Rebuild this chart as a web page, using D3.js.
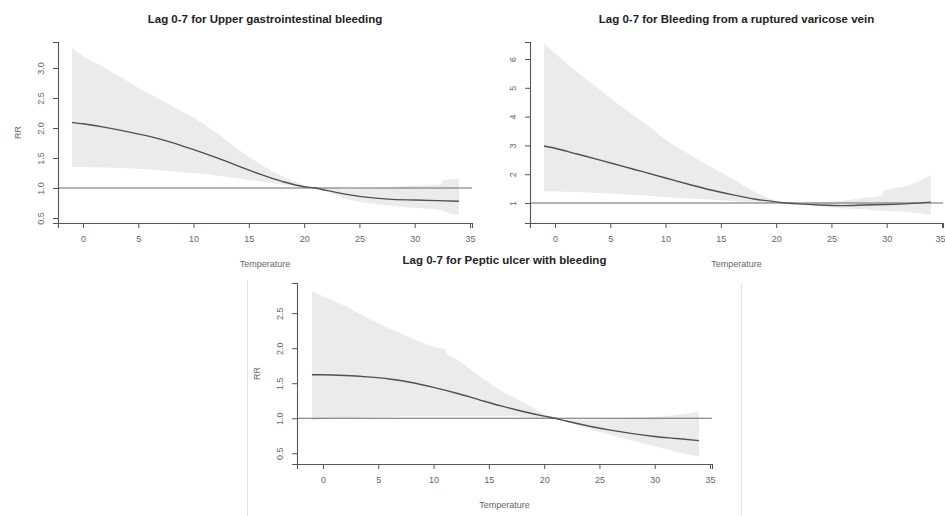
<!DOCTYPE html>
<html>
<head>
<meta charset="utf-8">
<script src="https://cdn.jsdelivr.net/npm/d3@7"></script>
<style>
  body { margin: 0; background: #fff; }
  text { font-family: "Liberation Sans", Arial, sans-serif; }
</style>
</head>
<body>
<div id="chart"></div>
<script>
// Temperature grid for fitted curves
const temps = [-1, 0, 2, 4, 6, 8, 10, 12, 14, 16, 18, 20, 21, 22, 24, 26, 28, 30, 32, 34];

// Upper gastrointestinal bleeding
const rrUpperGI = [2.09, 2.07, 2.01, 1.94, 1.86, 1.76, 1.64, 1.51, 1.37, 1.23, 1.11, 1.02, 1.0, 0.96, 0.89, 0.84, 0.81, 0.80, 0.79, 0.78];
const bandTempsUpperGI = [-1, 0, 2, 4, 6, 8, 10, 12, 14, 16, 18, 20, 21, 22, 24, 26, 28, 30, 32.4, 32.5, 34];
const hiUpperGI = [3.33, 3.2, 3.0, 2.78, 2.57, 2.37, 2.17, 1.93, 1.65, 1.40, 1.2, 1.05, 1.0, 1.0, 0.98, 1.0, 1.02, 1.04, 1.06, 1.12, 1.15];
const loUpperGI = [1.35, 1.35, 1.34, 1.33, 1.31, 1.28, 1.25, 1.21, 1.16, 1.11, 1.06, 1.02, 1.0, 0.94, 0.81, 0.74, 0.70, 0.67, 0.63, 0.62, 0.55];

// Bleeding from a ruptured varicose vein
const rrVaricose = [2.98, 2.90, 2.70, 2.50, 2.29, 2.08, 1.87, 1.66, 1.46, 1.29, 1.14, 1.04, 1.0, 0.97, 0.93, 0.91, 0.93, 0.95, 0.98, 1.03];
const bandTempsVaricose = [-1, 0, 2, 4, 6, 8, 10, 12, 14, 16, 18, 20, 21, 22, 24, 26, 28, 29.6, 29.7, 32, 34];
const hiVaricose = [6.55, 6.2, 5.55, 4.95, 4.35, 3.8, 3.2, 2.72, 2.28, 1.85, 1.4, 1.08, 1.0, 1.0, 1.02, 1.08, 1.18, 1.27, 1.42, 1.62, 1.97];
const loVaricose = [1.40, 1.40, 1.38, 1.35, 1.31, 1.26, 1.21, 1.16, 1.12, 1.07, 1.03, 1.01, 1.0, 0.97, 0.88, 0.82, 0.78, 0.72, 0.72, 0.68, 0.58];

// Peptic ulcer with bleeding
const rrPeptic = [1.62, 1.62, 1.61, 1.59, 1.56, 1.51, 1.44, 1.36, 1.27, 1.18, 1.10, 1.03, 1.0, 0.96, 0.89, 0.83, 0.78, 0.74, 0.71, 0.68];
const bandTempsPeptic = [-1, 0, 2, 4, 6, 8, 10, 11.1, 11.2, 12, 14, 16, 18, 20, 21, 22, 24, 26, 28, 30, 32, 34];
const hiPeptic = [2.82, 2.74, 2.6, 2.43, 2.28, 2.15, 2.02, 1.98, 1.92, 1.85, 1.62, 1.40, 1.24, 1.06, 1.0, 0.98, 0.98, 0.99, 1.0, 1.02, 1.05, 1.1];
const loPeptic = [0.97, 0.99, 1.0, 1.01, 1.02, 1.03, 1.03, 1.03, 1.03, 1.03, 1.03, 1.03, 1.02, 1.0, 0.99, 0.95, 0.85, 0.76, 0.68, 0.60, 0.52, 0.45];

const xTicks = [0, 5, 10, 15, 20, 25, 30, 35];
const yTicksUpperGI = [0.5, 1.0, 1.5, 2.0, 2.5, 3.0];
const yTicksVaricose = [1, 2, 3, 4, 5, 6];
const yTicksPeptic = [0.5, 1.0, 1.5, 2.0, 2.5];

const titles = [
  "Lag 0-7 for Upper gastrointestinal bleeding",
  "Lag 0-7 for Bleeding from a ruptured varicose vein",
  "Lag 0-7 for Peptic ulcer with bleeding"
];

const width = 945;
const height = 516;

const svg = d3.select("#chart")
  .append("svg")
  .attr("width", width)
  .attr("height", height);

// faint frame of the bottom panel
svg.append("line").attr("x1", 247.5).attr("x2", 247.5).attr("y1", 280).attr("y2", height)
  .attr("stroke", "#e4e4e4");
svg.append("line").attr("x1", 741.5).attr("x2", 741.5).attr("y1", 283).attr("y2", height)
  .attr("stroke", "#e4e4e4");

const panels = [
  {
    title: titles[0], rr: rrUpperGI, bandT: bandTempsUpperGI, hi: hiUpperGI, lo: loUpperGI,
    yTicks: yTicksUpperGI, fmt: d3.format(".1f"), ylab: true,
    xDom: [-2.26, 35.18], xRange: [58, 472], yDom: [0.417, 3.433], yRange: [223, 42]
  },
  {
    title: titles[1], rr: rrVaricose, bandT: bandTempsVaricose, hi: hiVaricose, lo: loVaricose,
    yTicks: yTicksVaricose, fmt: d3.format("d"), ylab: false,
    xDom: [-2.26, 35.09], xRange: [530, 943], yDom: [0.306, 6.59], yRange: [223, 42]
  },
  {
    title: titles[2], rr: rrPeptic, bandT: bandTempsPeptic, hi: hiPeptic, lo: loPeptic,
    yTicks: yTicksPeptic, fmt: d3.format(".1f"), ylab: true,
    xDom: [-2.35, 35.18], xRange: [297, 712], yDom: [0.347, 2.93], yRange: [464, 283]
  }
];

panels.forEach(p => {
  const x = d3.scaleLinear().domain(p.xDom).range(p.xRange);
  const y = d3.scaleLinear().domain(p.yDom).range(p.yRange);
  const g = svg.append("g");

  // confidence band
  const band = p.bandT.map((t, i) => ({ t: t, hi: p.hi[i], lo: p.lo[i] }));
  g.append("path")
    .datum(band)
    .attr("fill", "#ebebeb")
    .attr("d", d3.area()
      .curve(d3.curveMonotoneX)
      .x(d => x(d.t))
      .y0(d => y(d.lo))
      .y1(d => y(d.hi)));

  // reference line RR = 1
  g.append("line")
    .attr("x1", p.xRange[0]).attr("x2", p.xRange[1])
    .attr("y1", y(1)).attr("y2", y(1))
    .attr("stroke", "#6a6a6a")
    .attr("stroke-width", 1.1);

  // fitted curve
  g.append("path")
    .datum(temps.map((t, i) => ({ t: t, v: p.rr[i] })))
    .attr("fill", "none")
    .attr("stroke", "#505050")
    .attr("stroke-width", 1.4)
    .attr("d", d3.line()
      .curve(d3.curveMonotoneX)
      .x(d => x(d.t))
      .y(d => y(d.v)));

  // axes
  const xAxis = g.append("g")
    .attr("transform", `translate(0,${p.yRange[0]})`)
    .call(d3.axisBottom(x).tickValues(xTicks).tickSizeOuter(0).tickSize(5).tickPadding(8));
  const yAxis = g.append("g")
    .attr("transform", `translate(${p.xRange[0]},0)`)
    .call(d3.axisLeft(y).tickValues(p.yTicks).tickFormat(p.fmt).tickSizeOuter(0).tickSize(5));

  [xAxis, yAxis].forEach(a => {
    a.select(".domain").attr("stroke", "#555").attr("stroke-width", 1.1);
    a.selectAll(".tick line").attr("stroke", "#555");
    a.selectAll("text").attr("fill", "#666").style("font-size", "9px");
  });

  // keep the last x label inside the window
  xAxis.selectAll(".tick text")
    .filter(function() { return this.getBBox().x + x(+this.textContent) + this.getBBox().width > width; })
    .attr("text-anchor", "end")
    .attr("x", width - p.xRange[1] - 38 < 0 ? 3 : 0);

  // y tick labels parallel to axis
  yAxis.selectAll(".tick text")
    .attr("x", null).attr("dy", null)
    .attr("text-anchor", "middle")
    .attr("transform", "translate(-17,0) rotate(-90)")
    .attr("dy", "0.32em");

  const cx = (p.xRange[0] + p.xRange[1]) / 2;
  g.append("text")
    .attr("x", cx)
    .attr("y", p.yRange[1] - 19)
    .attr("text-anchor", "middle")
    .attr("font-weight", "bold")
    .style("font-size", "11.5px")
    .attr("fill", "#222")
    .text(p.title);

  g.append("text")
    .attr("x", cx)
    .attr("y", p.yRange[0] + 44)
    .attr("text-anchor", "middle")
    .style("font-size", "9px")
    .attr("fill", "#666")
    .text("Temperature");

  if (p.ylab) {
    const cy = (p.yRange[0] + p.yRange[1]) / 2;
    g.append("text")
      .attr("transform", `translate(${p.xRange[0] - 37},${cy}) rotate(-90)`)
      .attr("text-anchor", "middle")
      .style("font-size", "9px")
      .attr("fill", "#666")
      .text("RR");
  }
});
</script>
</body>
</html>
